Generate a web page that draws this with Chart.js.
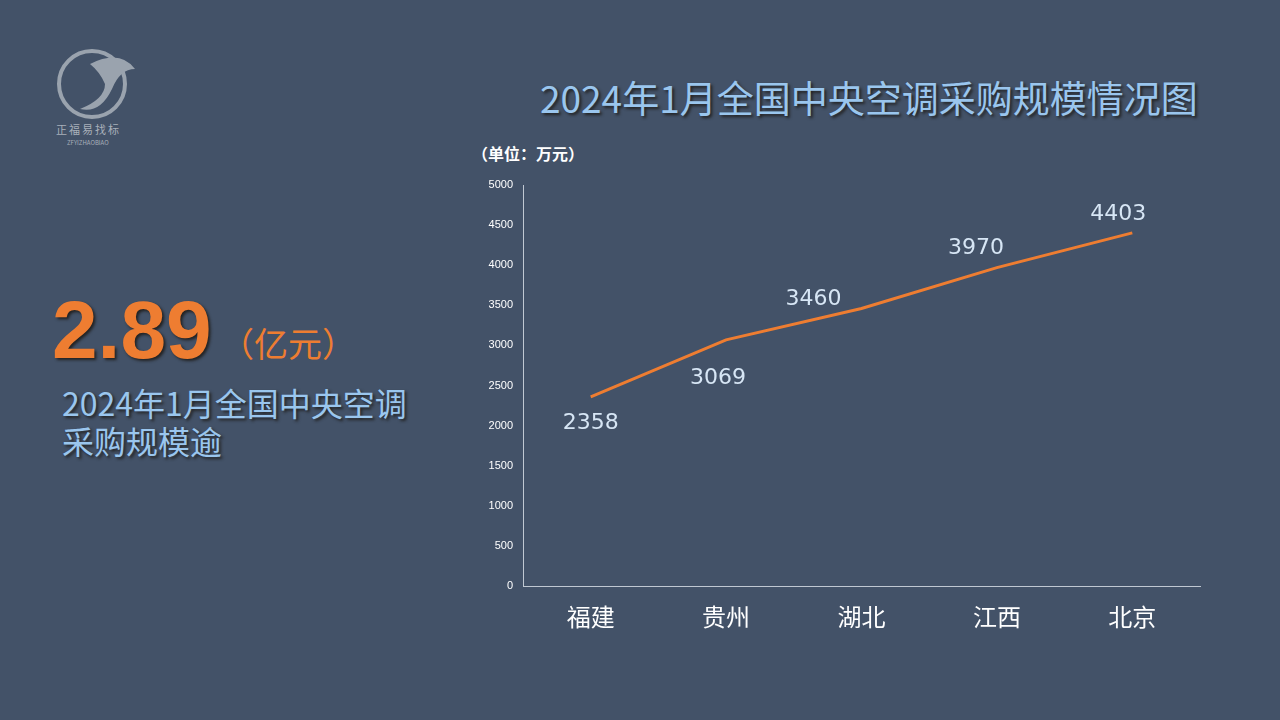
<!DOCTYPE html>
<html><head><meta charset="utf-8">
<script src="https://cdn.jsdelivr.net/npm/chart.js@4"></script>
<style>
  body{margin:0;width:1280px;height:720px;background:#435268;overflow:hidden;position:relative;font-family:"Noto Sans CJK SC",sans-serif}
  .t{position:absolute;white-space:nowrap}
  #c{position:absolute;left:0;top:0}
</style></head>
<body>
<svg class="t" style="left:50px;top:44px" width="90" height="100">
  <circle cx="42" cy="40" r="33" fill="none" stroke="#9aa3ae" stroke-width="4"/>
  <path d="M40 20 Q70 5 85 25 Q70 25 62 45 Q50 70 30 65 Q55 55 55 40 Q50 28 40 20Z" fill="#9aa3ae"/>
</svg>
<div class="t" style="left:56px;top:121px;font-size:11px;color:#a8b0ba;letter-spacing:2px">正福易找标</div>
<div class="t" style="left:67px;top:138px;font-size:6px;color:#a8b0ba">ZFYIZHAOBIAO</div>
<div class="t" style="left:540px;top:70px;font-size:37px;color:#9ac6ee;text-shadow:2px 2px 3px #222">2024年1月全国中央空调采购规模情况图</div>
<div class="t" style="left:472px;top:141px;font-size:16px;font-weight:bold;color:#fff">（单位：万元）</div>
<div class="t" style="left:52px;top:283px;font-size:82px;font-weight:bold;color:#ee7d31;font-family:'Liberation Sans';text-shadow:2px 2px 3px #222">2.89</div>
<div class="t" style="left:220px;top:318px;font-size:34px;color:#ee7d31">（亿元）</div>
<div class="t" style="left:62px;top:383px;font-size:32px;line-height:38px;color:#9ac6ee;text-shadow:2px 2px 3px #222">2024年1月全国中央空调<br>采购规模逾</div>
<canvas id="c" width="1280" height="720"></canvas>
<script>
const provinces = ['福建', '贵州', '湖北', '江西', '北京'];
const amounts = [2358, 3069, 3460, 3970, 4403];
const labelBelow = [true, true, false, false, false];
const labelDx = [0, -8, -48, -21, -14];
const labelDy = [15, 27, 2, -8, -8];

const valueLabels = {
  id: 'valueLabels',
  afterDatasetsDraw(chart) {
    const ctx = chart.ctx;
    const meta = chart.getDatasetMeta(0);
    ctx.save();
    ctx.font = '22px "DejaVu Sans"';
    ctx.fillStyle = '#d7e6f5';
    ctx.textAlign = 'center';
    meta.data.forEach((pt, i) => {
      ctx.textBaseline = labelBelow[i] ? 'top' : 'bottom';
      ctx.fillText(String(amounts[i]), pt.x + labelDx[i], pt.y + labelDy[i]);
    });
    ctx.restore();
  }
};

new Chart(document.getElementById('c'), {
  type: 'line',
  data: {
    labels: provinces,
    datasets: [{
      data: amounts,
      borderColor: '#ee7d31',
      borderWidth: 3,
      pointRadius: 0,
      tension: 0
    }]
  },
  options: {
    responsive: false,
    animation: false,
    layout: { padding: { left: 473, right: 80, top: 185, bottom: 84 } },
    plugins: { legend: { display: false }, tooltip: { enabled: false } },
    scales: {
      x: {
        offset: true,
        grid: { display: false, drawTicks: false },
        border: { color: '#c0c8d2' },
        ticks: { color: '#ffffff', font: { size: 24, family: 'Noto Sans CJK SC' }, padding: 16 },
        afterFit: s => { s.height = 50; }
      },
      y: {
        min: 0, max: 5000,
        grid: { display: false, drawTicks: false },
        border: { color: '#c0c8d2' },
        ticks: { stepSize: 500, color: '#ffffff', font: { size: 11, family: 'Liberation Sans' }, padding: 10, callback: v => String(v) },
        afterFit: s => { s.width = 50; }
      }
    }
  },
  plugins: [valueLabels]
});
</script>
</body></html>
